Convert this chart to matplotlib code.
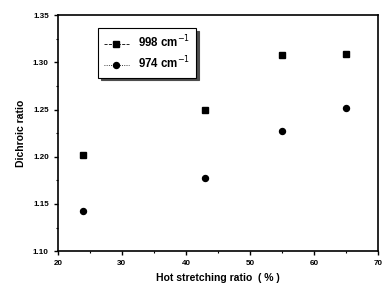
import matplotlib
matplotlib.use('Agg')
import matplotlib.pyplot as plt
from matplotlib.lines import Line2D
from matplotlib.ticker import MultipleLocator

plt.rcParams['font.family'] = ['Liberation Sans', 'DejaVu Sans']

# --- data ---
stretch_ratio = [24, 43, 55, 65]
dichroic_998 = [1.202, 1.250, 1.308, 1.309]
dichroic_974 = [1.143, 1.178, 1.227, 1.252]

fig = plt.figure(figsize=(3.83, 2.93), dpi=100)
ax = fig.add_axes([0.151, 0.143, 0.836, 0.805])

ax.plot(stretch_ratio, dichroic_998, 's', color='black', markersize=4, linestyle='none')
ax.plot(stretch_ratio, dichroic_974, 'o', color='black', markersize=4.3, linestyle='none')

ax.set_xlim(20, 70)
ax.set_ylim(1.10, 1.35)
ax.xaxis.set_major_locator(MultipleLocator(10))
ax.xaxis.set_minor_locator(MultipleLocator(5))
ax.yaxis.set_major_locator(MultipleLocator(0.05))
ax.yaxis.set_minor_locator(MultipleLocator(0.025))
ax.yaxis.set_major_formatter(plt.FormatStrFormatter('%.2f'))

for side in ax.spines.values():
    side.set_linewidth(1.2)
ax.tick_params(which='major', direction='out', length=3, width=1, labelsize=5.8)
ax.tick_params(which='minor', direction='out', length=1.5, width=0.8)
for lbl in ax.get_xticklabels() + ax.get_yticklabels():
    lbl.set_fontweight('bold')

ax.set_xlabel('Hot stretching ratio  ( % )', fontsize=7.5, fontweight='bold', labelpad=4)
ax.set_ylabel('Dichroic ratio', fontsize=7.5, fontweight='bold', labelpad=5)

handles = [
    Line2D([], [], color='black', linestyle='--', linewidth=0.6, marker='s', markersize=4),
    Line2D([], [], color='black', linestyle=':', linewidth=0.6, marker='o', markersize=4.3),
]
leg = ax.legend(handles, ['998 cm$^{-1}$', '974 cm$^{-1}$'], loc='upper left',
                bbox_to_anchor=(0.125, 0.945), borderaxespad=0, fontsize=8.3,
                frameon=True, fancybox=False, shadow={'color': '0.3', 'alpha': 1},
                edgecolor='black', handlelength=2.2, borderpad=0.5,
                labelspacing=0.4)
leg.get_frame().set_linewidth(0.8)
for t in leg.get_texts():
    t.set_fontweight('bold')

fig.savefig('out.png', dpi=100)
